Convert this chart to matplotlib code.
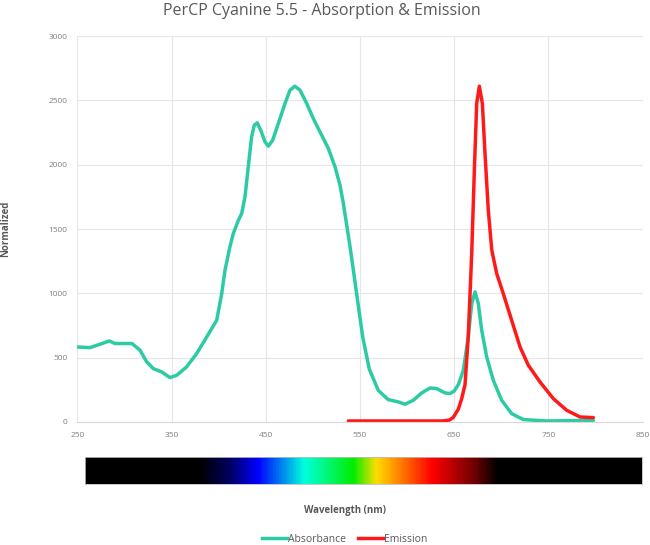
import numpy as np
import matplotlib
matplotlib.use("Agg")
import matplotlib.pyplot as plt
from matplotlib.colors import LinearSegmentedColormap
from matplotlib.lines import Line2D

plt.rcParams['font.family'] = ['Open Sans', 'DejaVu Sans']

title = "PerCP Cyanine 5.5 - Absorption & Emission"

abs_wl = [250, 263.5, 274, 284, 290, 299, 308, 316.6, 323.7, 330.7, 339.6, 348.4, 355.5,
          366, 376.7, 387.4, 398, 403.3, 406.8, 412, 415.6, 421, 424.5, 428, 431.5, 435,
          437.9, 441, 444.7, 449.3, 452.8, 457.4, 463.4, 470.5, 475.8, 481, 486.4, 493.5,
          500.5, 509.4, 516.5, 523.6, 528.9, 532.4, 536, 540, 544, 548, 553, 560,
          569.5, 580, 590.8, 597.9, 606.7, 615.6, 624.4, 631.5, 640.3, 645.6, 650, 654.5,
          659.8, 665, 668.7, 672.2, 675.7, 679.3, 684.6, 691.6, 700.5, 711.1, 723.5, 748.3,
          797.8]
abs_val = [583, 578, 604, 630, 610, 610, 610, 558, 467, 415, 389, 345, 363,
           428, 532, 661, 791, 998, 1180, 1361, 1465, 1568, 1620, 1750, 1983, 2216,
           2307, 2325, 2268, 2177, 2144, 2190, 2320, 2476, 2579, 2610, 2579, 2476,
           2359, 2229, 2126, 1983, 1840, 1700, 1530, 1340, 1130, 920, 660, 410,
           246, 174, 156, 138, 169, 226, 264, 260, 226, 221, 240, 290,
           402, 661, 921, 1011, 921, 713, 505, 324, 169, 65, 19, 8,
           13]

em_wl = [537.7, 600, 638, 645, 649, 654.5, 658, 661.6, 665, 668.7, 671.5, 674, 676.8,
         680, 682.8, 686.3, 690, 695.2, 702.2, 711.1, 720, 728.8, 741.2, 755.3, 769.5,
         783.7, 797.8]
em_val = [8, 8, 8, 15, 35, 100, 180, 290, 661, 1309, 1957, 2476, 2610,
          2476, 2087, 1646, 1335, 1154, 998, 791, 583, 441, 311, 182, 91,
          39, 34]

x_ticks = [250, 350, 450, 550, 650, 750, 850]
y_ticks = [0, 500, 1000, 1500, 2000, 2500, 3000]

spec_wl = [250, 373, 405, 436, 486, 539, 564, 592, 624, 670, 695, 850]
spec_col = ["#000000", "#000000", "#000060", "#0000ff", "#00ffdd", "#00ee00",
            "#ffdd00", "#ff7700", "#ff0000", "#700000", "#000000", "#000000"]

teal = "#2dcba4"
red = "#ff1a1a"
grey_txt = "#595959"

fig = plt.figure(figsize=(6.5, 5.45), dpi=100)
ax = fig.add_axes([77.3/650, 1-422/545, (642.5-77.3)/650, (422-36)/545])

ax.plot(abs_wl, abs_val, color=teal, lw=2.5, solid_capstyle='round',
        solid_joinstyle='round', label="Absorbance")
ax.plot(em_wl, em_val, color=red, lw=2.5, solid_capstyle='round',
        solid_joinstyle='round', label="Emission")

ax.set_xlim(250, 850)
ax.set_ylim(0, 3000)
ax.set_xticks(x_ticks)
ax.set_yticks(y_ticks)
ax.grid(True, color="#e6e6e6", lw=0.8)
ax.set_axisbelow(True)
for s in ['top', 'right', 'left']:
    ax.spines[s].set_visible(False)
ax.spines['bottom'].set_color("#d9d9d9")
ax.tick_params(length=0, labelsize=6, colors="#7f7f7f", pad=7)
ax.set_ylabel("Normalized", fontsize=7, fontweight='bold', color=grey_txt, labelpad=27)
fig.suptitle(title, x=0.495, y=0.995, fontsize=11.5, color=grey_txt)

# spectrum bar
bax = fig.add_axes([85/650, 1-484/545, (642-85)/650, 27/545])
pos = [(w - 250) / 600 for w in spec_wl]
cmap = LinearSegmentedColormap.from_list("spec", list(zip(pos, spec_col)))
grad = np.linspace(0, 1, 600).reshape(1, -1)
bax.imshow(grad, aspect='auto', cmap=cmap, extent=[250, 850, 0, 1])
bax.set_xticks([])
bax.set_yticks([])
for s in bax.spines.values():
    s.set_color("#bbbbbb")
    s.set_linewidth(0.6)

fig.text(0.53, 1-510/545, "Wavelength (nm)", ha='center', va='center',
         fontsize=7, fontweight='bold', color=grey_txt)

handles = [Line2D([], [], color=teal, lw=2.5), Line2D([], [], color=red, lw=2.5)]
fig.legend(handles, ["Absorbance", "Emission"], loc='center', bbox_to_anchor=(0.53, 1-539/545),
           ncol=2, frameon=False, fontsize=7.5, handlelength=2.4, handletextpad=0.1,
           columnspacing=1.2, labelcolor=grey_txt)

fig.savefig("out.png", dpi=100)
